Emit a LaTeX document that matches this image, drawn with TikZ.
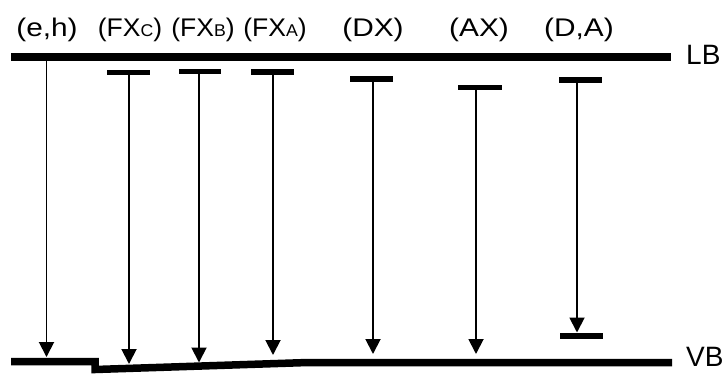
\documentclass[tikz,border=0pt]{standalone}
\usepackage{fontspec}
\setmainfont{Liberation Sans}
\newfontfamily\widefont[FakeStretch=1.17]{Liberation Sans}
\newfontfamily\fxfont[FakeStretch=1.04]{Liberation Sans}
\usetikzlibrary{arrows.meta}
\newcommand{\smc}[1]{{\fontsize{17}{17}\selectfont #1}}
\begin{document}
\begin{tikzpicture}[x=1pt,y=-1pt,
  band/.style={line width=7.8pt},
  lvl/.style={line width=5.2pt},
  trans/.style={line width=1.9pt,-{Triangle[length=15pt,width=15pt]}},
  lab/.style={anchor=base,inner sep=0pt,font=\widefont\fontsize{25.5}{25.5}\selectfont},
  fxlab/.style={anchor=base,inner sep=0pt,font=\fxfont\fontsize{25.5}{25.5}\selectfont},
  side/.style={anchor=base west,inner sep=0pt,font=\fontsize{28}{28}\selectfont}]
\useasboundingbox (0,0) rectangle (728,373);
% bands
\coordinate (lbL) at (11,57);
\coordinate (lbR) at (671,57);
\draw[band] (lbL) -- (lbR);
\node[side] (LB) at (686,64) {LB};
\coordinate (vb0) at (11,361.5);
\coordinate (vb1) at (95,361.5);
\coordinate (vb2) at (95,369.5);
\coordinate (vb3) at (308,362.5);
\coordinate (vb4) at (672,362.5);
\draw[band,line width=7.5pt] (vb0) -- (vb1) -- (vb2) -- (vb3) -- (vb4);
\node[side] (VB) at (686,366.5) {VB};
% labels
\node[lab] (teh) at (47,36) {(e,h)};
\node[fxlab] (tfc) at (130,36) {(FX\smc{C})};
\node[fxlab] (tfb) at (203,36) {(FX\smc{B})};
\node[fxlab] (tfa) at (275,36) {(FX\smc{A})};
\node[lab] (tdx) at (373,36) {(DX)};
\node[lab] (tax) at (479,36) {(AX)};
\node[lab] (tda) at (579,36) {(D,A)};
% levels
\draw[lvl] (107,72.5) coordinate (fcL) -- (150,72.5) coordinate (fcR);
\draw[lvl] (179,71.5) coordinate (fbL) -- (221,71.5) coordinate (fbR);
\draw[lvl] (251,72) coordinate (faL) -- (294,72) coordinate (faR);
\draw[lvl] (350,79) coordinate (dxL) -- (393,79) coordinate (dxR);
\draw[lvl] (458,87.5) coordinate (axL) -- (502,87.5) coordinate (axR);
\draw[lvl] (559,80) coordinate (daL) -- (602,80) coordinate (daR);
\draw[lvl] (560,336) coordinate (dbL) -- (603,336) coordinate (dbR);
% transition start / end points
\coordinate (s1) at (46.5,61);   \coordinate (e1) at (46.5,357);
\coordinate (s2) at (129,75);    \coordinate (e2) at (129,364);
\coordinate (s3) at (199,74);    \coordinate (e3) at (199,362.5);
\coordinate (s4) at (273,74.5);  \coordinate (e4) at (273,355);
\coordinate (s5) at (373,81.5);  \coordinate (e5) at (373,354);
\coordinate (s6) at (476,90);    \coordinate (e6) at (476,354);
\coordinate (s7) at (577,82.5);  \coordinate (e7) at (577,332.5);
\foreach \i in {1,...,7} \draw[trans] (s\i) -- (e\i);
\end{tikzpicture}
\end{document}
